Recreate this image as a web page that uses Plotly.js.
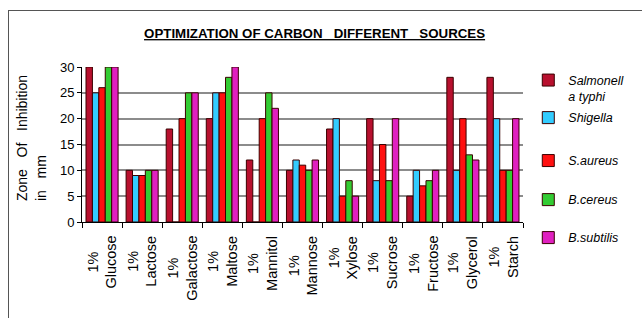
<!DOCTYPE html>
<html><head><meta charset="utf-8">
<script src="https://cdn.plot.ly/plotly-3.0.1.min.js"></script>
<style>
body{margin:0;background:#fff;}
#wrap{position:relative;width:642px;height:318px;overflow:hidden;}
#chart{position:absolute;left:0;top:0;width:642px;height:318px;}
#frame{position:absolute;left:8px;top:10px;width:700px;height:400px;border:1px solid #555;pointer-events:none;}
</style></head>
<body><div id="wrap"><div id="chart"></div><div id="frame"></div></div>
<script>
const categories = ["Glucose","Lactose","Galactose","Maltose","Mannitol","Mannose","Xylose","Sucrose","Fructose","Glycerol","Starch"];
const tickLabels = categories.map(c => "1%<br>" + c);
const seriesNames = ["Salmonell<br>a typhi","Shigella","S.aureus","B.cereus","B.subtilis"];
const salmonellaTyphi = [30,10,18,20,12,10,18,20,5,28,28];
const shigella        = [25, 9, 0,25, 0,12,20, 8,10,10,20];
const sAureus         = [26, 9,20,25,20,11, 5,15, 7,20,10];
const bCereus         = [30,10,25,28,25,10, 8, 8, 8,13,10];
const bSubtilis       = [30,10,25,30,22,12, 5,20,10,12,20];
const seriesValues = [salmonellaTyphi, shigella, sAureus, bCereus, bSubtilis];
const colors = ["#B8102E","#33CCFF","#FF1010","#33CC33","#E020C0"];
const legendIds = ["legend","legend2","legend3","legend4","legend5"];
const legendY = [1.01, 0.671, 0.394, 0.142, -0.103];

const traces = seriesValues.map((vals, i) => ({
  type: "bar",
  name: seriesNames[i],
  x: tickLabels,
  y: vals,
  legend: legendIds[i],
  marker: {color: colors[i], line: {color: "#3a0000", width: 1}},
}));

const legendFont = {family: "Liberation Sans, Arial, sans-serif", size: 12.5, style: "italic", color: "#000"};
const layout = {
  width: 642, height: 318,
  margin: {l: 82, r: 94, t: 67, b: 96},
  paper_bgcolor: "#fff", plot_bgcolor: "#fff",
  barmode: "group", bargap: 0.2, bargroupgap: 0,
  font: {family: "Liberation Sans, Arial, sans-serif", size: 12, color: "#000"},
  title: {
    text: "<b><u>OPTIMIZATION OF CARBON &nbsp; DIFFERENT &nbsp; SOURCES</u></b>",
    font: {family: "Liberation Sans, Arial, sans-serif", size: 13.3, color: "#000"},
    x: 0.49, xref: "container", y: 0.895, yref: "container", yanchor: "middle"
  },
  xaxis: {
    type: "category", showgrid: false, showticklabels: false,
    showline: true, linecolor: "#000", linewidth: 1,
    ticks: "outside", tickson: "boundaries", ticklen: 5, tickcolor: "#000",
    automargin: false
  },
  yaxis: {
    range: [0, 30], dtick: 5, showgrid: true, gridcolor: "#8c8c8c", gridwidth: 2,
    showline: true, linecolor: "#000", linewidth: 1,
    ticks: "outside", ticklen: 4, tickcolor: "#000",
    tickfont: {family: "Liberation Sans, Arial, sans-serif", size: 13},
    zeroline: false, automargin: false
  },
  annotations: [
    {
      text: "Zone &nbsp;&nbsp;Of &nbsp;&nbsp;Inhibition<br>in &nbsp;&nbsp;mm",
      xref: "paper", yref: "paper", x: -0.114, y: 0.54, xanchor: "center", yanchor: "middle",
      textangle: -90, align: "left", showarrow: false,
      font: {family: "Liberation Sans, Arial, sans-serif", size: 14, color: "#000"}
    }
  ].concat(tickLabels.map(t => ({
      text: t, xref: "x", yref: "paper", x: t, y: 0, yshift: -12, xanchor: "center", yanchor: "top",
      textangle: -90, align: "center", showarrow: false,
      font: {family: "Liberation Sans, Arial, sans-serif", size: 14.5, color: "#000"}
  }))),
  showlegend: true
};
legendIds.forEach((id, i) => {
  layout[id] = {
    x: 1.012, xanchor: "left", y: legendY[i], yanchor: i === 0 ? "top" : "middle",
    font: legendFont, itemwidth: 30, valign: "top", bgcolor: "rgba(0,0,0,0)"
  };
});
Plotly.newPlot("chart", traces, layout, {displayModeBar: false, staticPlot: true});
</script></body></html>
